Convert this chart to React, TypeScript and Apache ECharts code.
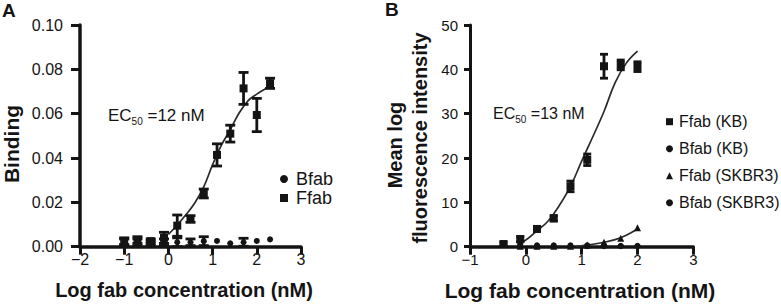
import React, { useEffect, useRef } from "react";
import * as echarts from "echarts";

// ---------- Panel A data ----------
const xA = [-1.0, -0.7, -0.4, -0.1, 0.2, 0.5, 0.8, 1.1, 1.4, 1.7, 2.0, 2.3];
const ffabA = [0.0025, 0.003, 0.0025, 0.004, 0.0095, 0.0125, 0.024, 0.0414, 0.051, 0.0714, 0.0594, 0.0737];
const ffabAErr = [0.0015, 0.0015, 0.001, 0.0025, 0.0048, 0.0015, 0.002, 0.005, 0.0038, 0.0072, 0.0075, 0.0023];
const bfabA = [0.002, 0.002, 0.0015, 0.002, 0.002, 0.002, 0.0025, 0.0026, 0.0015, 0.002, 0.0026, 0.0033];
const bfabAErr = [0.0015, 0.0015, 0.001, 0.0015, 0.002, 0.0015, 0.002, 0, 0, 0.0018, 0, 0];
const curveAX = [0.0, 0.2, 0.4, 0.6, 0.8, 1.0, 1.2, 1.4, 1.6, 1.8, 2.0, 2.2, 2.3];
const curveAY = [0.0055, 0.0098, 0.0145, 0.0198, 0.027, 0.037, 0.0458, 0.0528, 0.0603, 0.0658, 0.0688, 0.0712, 0.072];

// ---------- Panel B data ----------
const xB = [-0.4, -0.1, 0.2, 0.5, 0.8, 1.1, 1.4, 1.7, 2.0];
const ffabKB = [0.6, 1.7, 4.0, 6.4, 13.6, 19.6, 40.7, 41.0, 40.6];
const ffabKBErr = [0.4, 0.6, 0.5, 0.6, 1.2, 1.3, 2.7, 1.1, 1.1];
const xB2 = [-0.1, 0.2, 0.5, 0.8, 1.1, 1.4, 1.7, 2.0];
const bfabKB = [0.4, 0.3, 0.3, 0.3, 0.3, 0.3, 0.2, 0.2];
const ffabSK = [0.1, 0.1, 0.1, 0.1, 0.4, 1.0, 1.9, 4.3];
const bfabSK = [0.1, 0.1, 0.1, 0.1, 0.1, 0.1, 0.1, 0.1];
const curveB1X = [-0.15, 0.0, 0.2, 0.4, 0.6, 0.8, 1.0, 1.2, 1.4, 1.6, 1.8, 2.0];
const curveB1Y = [0.5, 1.5, 3.6, 5.8, 9.3, 13.6, 19.3, 24.8, 30.5, 37.0, 41.4, 44.1];
const curveB2X = [0.9, 1.0, 1.2, 1.4, 1.6, 1.8, 2.0];
const curveB2Y = [0.05, 0.2, 0.55, 1.0, 1.6, 2.6, 4.0];

// ---------- texts ----------
const ticksAY = [0, 0.02, 0.04, 0.06, 0.08, 0.1];
const legendA = ["Bfab", "Ffab"];
const legendB = ["Ffab (KB)", "Bfab (KB)", "Ffab (SKBR3)", "Bfab (SKBR3)"];

const FONT = '"Liberation Sans", Arial, Helvetica, sans-serif';
const INK = "#141414";

const pairs = (xs: number[], ys: number[]) => xs.map((x, i) => [x, ys[i]]);
const minus = (v: number) => (v < 0 ? "\u2212" + Math.abs(v) : String(v));

function errSeries(xs: number[], ys: number[], errs: number[], gi: number, capHalf: number) {
  const data = xs
    .map((x, i) => [x, Math.max(0, ys[i] - errs[i]), ys[i] + errs[i], errs[i]])
    .filter((d) => d[3] > 0);
  return {
    type: "custom",
    xAxisIndex: gi,
    yAxisIndex: gi,
    silent: true,
    z: 3,
    data,
    encode: { x: 0, y: [1, 2] },
    renderItem: (_p: any, api: any) => {
      const lo = api.coord([api.value(0), api.value(1)]);
      const hi = api.coord([api.value(0), api.value(2)]);
      const style = { stroke: INK, lineWidth: 2.8 };
      return {
        type: "group",
        children: [
          { type: "line", shape: { x1: lo[0], y1: lo[1], x2: hi[0], y2: hi[1] }, style },
          { type: "line", shape: { x1: lo[0] - capHalf, y1: lo[1], x2: lo[0] + capHalf, y2: lo[1] }, style },
          { type: "line", shape: { x1: hi[0] - capHalf, y1: hi[1], x2: hi[0] + capHalf, y2: hi[1] }, style },
        ],
      };
    },
  };
}

function axisX(gi: number, min: number, fs: number) {
  return {
    gridIndex: gi,
    type: "value",
    min,
    max: 3,
    interval: 1,
    axisLine: { show: true, onZero: false, lineStyle: { color: INK, width: 3.5 } },
    axisTick: { show: true, length: 8, lineStyle: { color: INK, width: 3 } },
    axisLabel: { fontSize: fs, fontFamily: FONT, color: INK, margin: 5, formatter: minus },
    splitLine: { show: false },
  };
}

const mark = { color: INK, opacity: 1 };

export default function App() {
  const ref = useRef<HTMLDivElement>(null);
  useEffect(() => {
    if (!ref.current) return;
    const chart = echarts.init(ref.current, undefined, { renderer: "svg" });
    const titleStyle = (text: string, fs: number) => ({
      text,
      font: `bold ${fs}px ${FONT}`,
      fill: INK,
      align: "center",
      verticalAlign: "middle",
    });
    const ec = (x: number, y: number, num: string, fs: number) => ({
      type: "text",
      x,
      y,
      style: {
        text: `EC{s|50} =${num} nM`,
        font: `${fs}px ${FONT}`,
        fill: INK,
        verticalAlign: "middle",
        lineHeight: 22,
        rich: { s: { fontSize: 10, fontFamily: FONT, fill: INK, lineHeight: 22, verticalAlign: "bottom" } },
      },
    });
    chart.setOption({
      animation: false,
      grid: [
        { left: 80, top: 25, width: 221, height: 221.7 },
        { left: 470, top: 25, width: 223.3, height: 221.7 },
      ],
      xAxis: [axisX(0, -2, 16), axisX(1, -1, 15)],
      yAxis: [
        {
          gridIndex: 0,
          type: "value",
          min: ticksAY[0],
          max: ticksAY[ticksAY.length - 1],
          interval: 0.02,
          axisLine: { show: true, onZero: false, lineStyle: { color: INK, width: 3.5 } },
          axisTick: { show: true, length: 9, lineStyle: { color: INK, width: 3 } },
          axisLabel: { fontSize: 16, fontFamily: FONT, color: INK, margin: 17, formatter: (v: number) => v.toFixed(2) },
          splitLine: { show: false },
        },
        {
          gridIndex: 1,
          type: "value",
          min: 0,
          max: 50,
          interval: 10,
          axisLine: { show: true, onZero: false, lineStyle: { color: INK, width: 3 } },
          axisTick: { show: true, length: 6, lineStyle: { color: INK, width: 3 } },
          axisLabel: { fontSize: 15, fontFamily: FONT, color: INK, margin: 12 },
          splitLine: { show: false },
        },
      ],
      legend: [
        {
          data: legendA,
          orient: "vertical",
          left: 275,
          top: 165,
          itemWidth: 8,
          itemHeight: 8,
          itemGap: 1,
          selectedMode: false,
          textStyle: { fontSize: 18, fontFamily: FONT, color: INK, lineHeight: 18, padding: [0, 0, 0, 3] },
        },
        {
          data: legendB,
          orient: "vertical",
          left: 661,
          top: 107.7,
          itemWidth: 7,
          itemHeight: 7,
          itemGap: 9,
          selectedMode: false,
          textStyle: { fontSize: 16, fontFamily: FONT, color: INK, lineHeight: 18, padding: [0, 0, 0, 1] },
        },
      ],
      graphic: [
        { type: "text", x: 2, y: 1, style: { text: "A", font: `bold 19px ${FONT}`, fill: INK } },
        { type: "text", x: 385, y: 0, style: { text: "B", font: `bold 19px ${FONT}`, fill: INK } },
        { type: "text", x: 11, y: 144, rotation: Math.PI / 2, style: titleStyle("Binding", 21) },
        { type: "text", x: 395, y: 145, rotation: Math.PI / 2, style: titleStyle("Mean log", 20) },
        { type: "text", x: 420, y: 138, rotation: Math.PI / 2, style: titleStyle("fluorescence intensity", 20) },
        { type: "text", x: 184, y: 290, style: titleStyle("Log fab concentration (nM)", 20) },
        { type: "text", x: 580, y: 290, style: titleStyle("Log fab concentration (nM)", 21) },
        ec(108, 115, "12", 17),
        ec(493, 113, "13", 16),
      ],
      series: [
        errSeries(xA, ffabA, ffabAErr, 0, 5),
        errSeries(xA, bfabA, bfabAErr, 0, 5),
        {
          type: "line",
          xAxisIndex: 0,
          yAxisIndex: 0,
          data: pairs(curveAX, curveAY),
          smooth: 0.4,
          showSymbol: false,
          silent: true,
          lineStyle: { color: "#2a2a2a", width: 1.7 },
          z: 2,
        },
        {
          name: "Bfab",
          type: "scatter",
          xAxisIndex: 0,
          yAxisIndex: 0,
          symbol: "circle",
          symbolSize: 6,
          itemStyle: mark,
          data: pairs(xA, bfabA),
          z: 4,
        },
        {
          name: "Ffab",
          type: "scatter",
          xAxisIndex: 0,
          yAxisIndex: 0,
          symbol: "rect",
          symbolSize: 8,
          itemStyle: mark,
          data: pairs(xA, ffabA),
          z: 5,
        },
        errSeries(xB, ffabKB, ffabKBErr, 1, 4),
        {
          type: "line",
          xAxisIndex: 1,
          yAxisIndex: 1,
          data: pairs(curveB1X, curveB1Y),
          smooth: 0.4,
          showSymbol: false,
          silent: true,
          lineStyle: { color: "#2a2a2a", width: 1.7 },
          z: 2,
        },
        {
          type: "line",
          xAxisIndex: 1,
          yAxisIndex: 1,
          data: pairs(curveB2X, curveB2Y),
          smooth: 0.4,
          showSymbol: false,
          silent: true,
          lineStyle: { color: "#2a2a2a", width: 1.7 },
          z: 2,
        },
        {
          name: "Ffab (KB)",
          type: "scatter",
          xAxisIndex: 1,
          yAxisIndex: 1,
          symbol: "rect",
          symbolSize: 8,
          itemStyle: mark,
          data: pairs(xB, ffabKB),
          z: 5,
        },
        {
          name: "Bfab (KB)",
          type: "scatter",
          xAxisIndex: 1,
          yAxisIndex: 1,
          symbol: "circle",
          symbolSize: 6,
          itemStyle: mark,
          data: pairs(xB2, bfabKB),
          z: 4,
        },
        {
          name: "Ffab (SKBR3)",
          type: "scatter",
          xAxisIndex: 1,
          yAxisIndex: 1,
          symbol: "triangle",
          symbolSize: 7,
          itemStyle: mark,
          data: pairs(xB2, ffabSK),
          z: 4,
        },
        {
          name: "Bfab (SKBR3)",
          type: "scatter",
          xAxisIndex: 1,
          yAxisIndex: 1,
          symbol: "circle",
          symbolSize: 6,
          itemStyle: mark,
          data: pairs(xB2, bfabSK),
          z: 4,
        },
      ],
    });
    return () => chart.dispose();
  }, []);
  return (
    <div
      ref={ref}
      style={{ position: "fixed", left: 0, top: 0, width: 781, height: 306, background: "#fff" }}
    />
  );
}
